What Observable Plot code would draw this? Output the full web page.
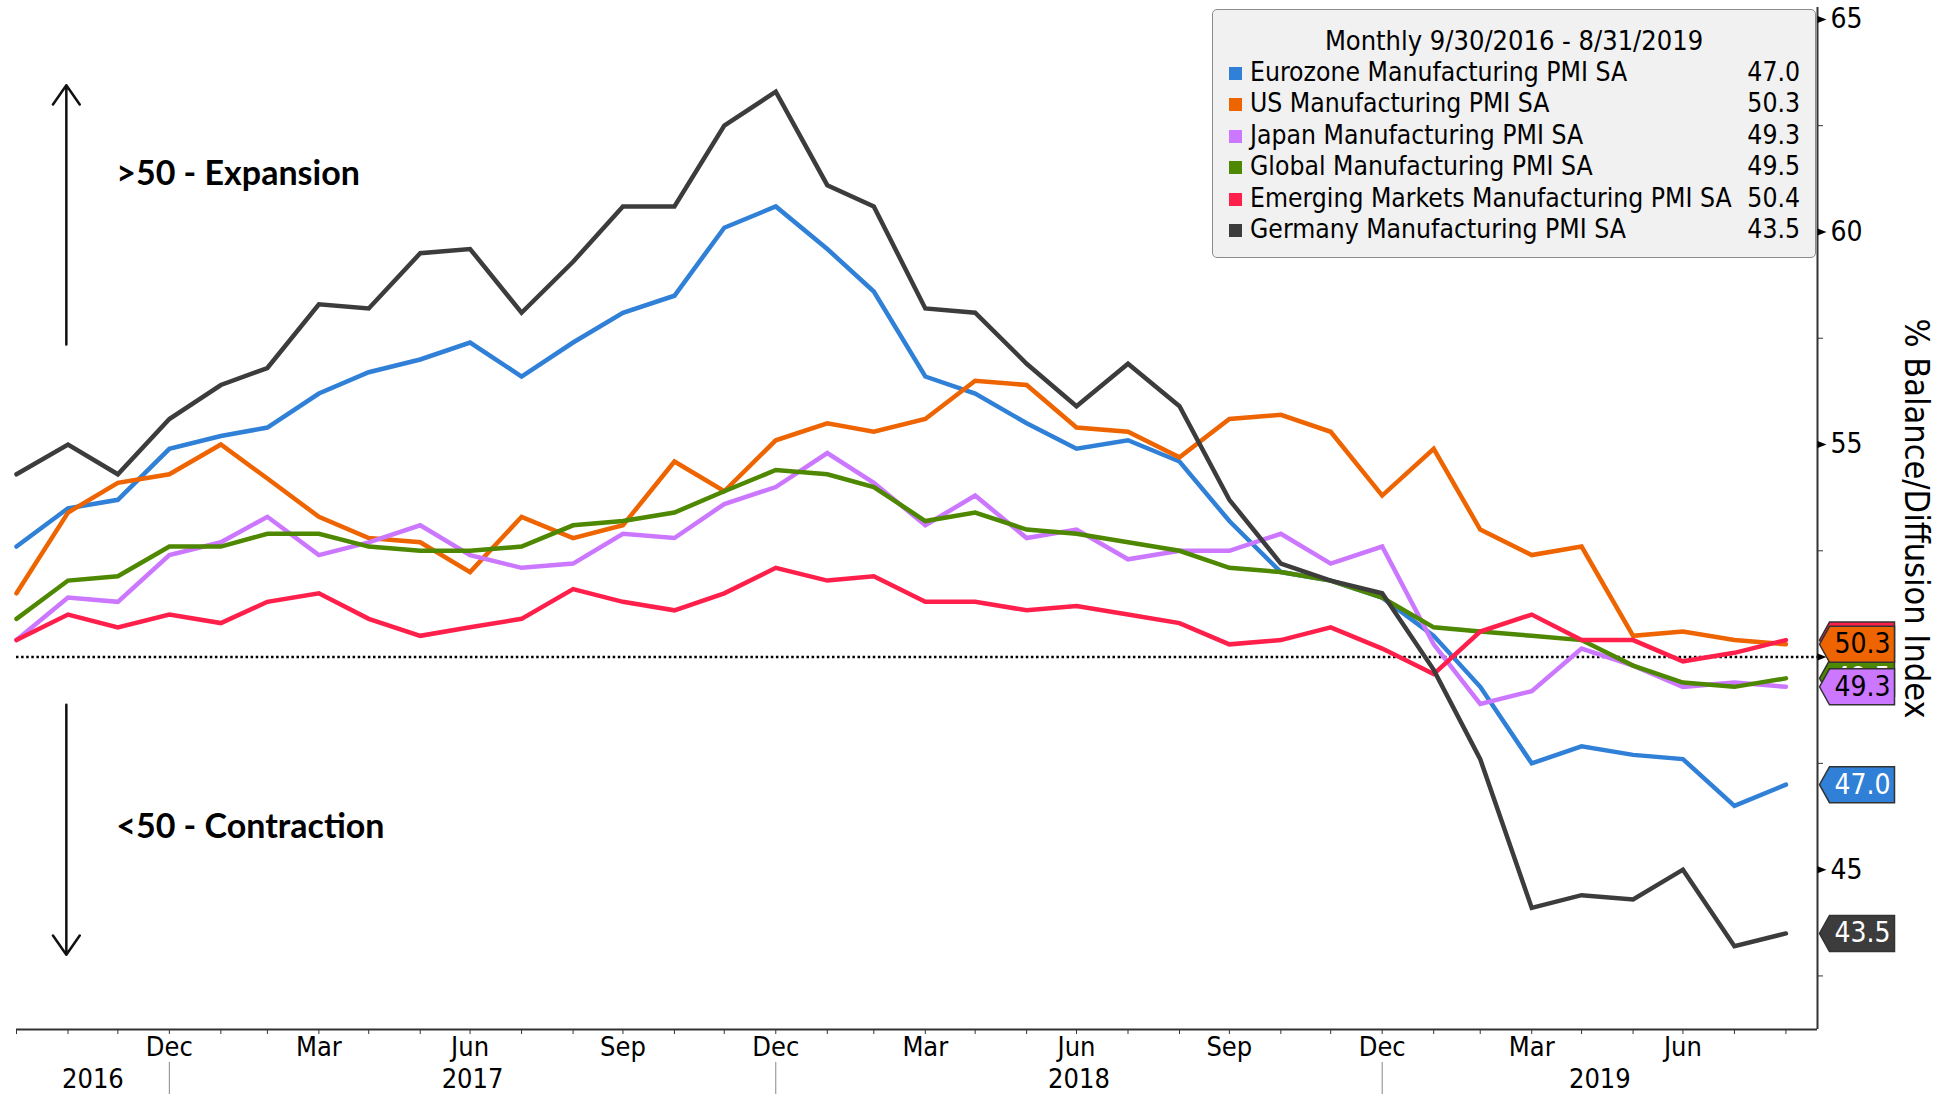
<!DOCTYPE html>
<html>
<head>
<meta charset="utf-8">
<script src="https://cdn.jsdelivr.net/npm/d3@7"></script>
<script src="https://cdn.jsdelivr.net/npm/@observablehq/plot@0.6"></script>
<style>
  body { margin: 0; background: #fff; }
  #wrap { position: relative; width: 1948px; height: 1094px; font-family: "DejaVu Sans Condensed", "DejaVu Sans", sans-serif; font-stretch: condensed; color: #000; }
  #legend { position: absolute; left: 1212px; top: 9px; width: 604px; height: 249px; box-sizing: border-box; background: #f1f1f1; border: 1.5px solid #8c8c8c; border-radius: 5px; font-size: 26.3px; }
  #legend .title { position: absolute; left: 0; right: 0; top: 15px; line-height: 31px; text-align: center; font-size: 27px; }
  #legend .row { position: absolute; left: 16px; right: 15px; height: 31px; line-height: 31px; }
  #legend .sw { position: absolute; left: 0; top: 10px; width: 13px; height: 13px; }
  #legend .nm { position: absolute; left: 21px; }
  #legend .vl { position: absolute; right: 0; }
</style>
</head>
<body>
<div id="wrap"><div id="chart"></div><div id="legend"></div></div>
<script>
// ---- data (monthly, 9/30/2016 - 8/31/2019) ----
const seriesNames = [
  "Eurozone Manufacturing PMI SA",
  "US Manufacturing PMI SA",
  "Japan Manufacturing PMI SA",
  "Global Manufacturing PMI SA",
  "Emerging Markets Manufacturing PMI SA",
  "Germany Manufacturing PMI SA"
];
const seriesColors = ["#2f80d6", "#ee6400", "#cc77ff", "#4e8700", "#ff1f4b", "#3c3c3c"];
const tagTextColors = ["#fff", "#000", "#000", "#fff", "#000", "#fff"];

const eurozone = [52.6,53.5,53.7,54.9,55.2,55.4,56.2,56.7,57.0,57.4,56.6,57.4,58.1,58.5,60.1,60.6,59.6,58.6,56.6,56.2,55.5,54.9,55.1,54.6,53.2,52.0,51.8,51.4,50.5,49.3,47.5,47.9,47.7,47.6,46.5,47.0];
const us       = [51.5,53.4,54.1,54.3,55.0,54.2,53.3,52.8,52.7,52.0,53.3,52.8,53.1,54.6,53.9,55.1,55.5,55.3,55.6,56.5,56.4,55.4,55.3,54.7,55.6,55.7,55.3,53.8,54.9,53.0,52.4,52.6,50.5,50.6,50.4,50.3];
const japan    = [50.4,51.4,51.3,52.4,52.7,53.3,52.4,52.7,53.1,52.4,52.1,52.2,52.9,52.8,53.6,54.0,54.8,54.1,53.1,53.8,52.8,53.0,52.3,52.5,52.5,52.9,52.2,52.6,50.3,48.9,49.2,50.2,49.8,49.3,49.4,49.3];
const global   = [50.9,51.8,51.9,52.6,52.6,52.9,52.9,52.6,52.5,52.5,52.6,53.1,53.2,53.4,53.9,54.4,54.3,54.0,53.2,53.4,53.0,52.9,52.7,52.5,52.1,52.0,51.8,51.4,50.7,50.6,50.5,50.4,49.8,49.4,49.3,49.5];
const emerging = [50.4,51.0,50.7,51.0,50.8,51.3,51.5,50.9,50.5,50.7,50.9,51.6,51.3,51.1,51.5,52.1,51.8,51.9,51.3,51.3,51.1,51.2,51.0,50.8,50.3,50.4,50.7,50.2,49.6,50.6,51.0,50.4,50.4,49.9,50.1,50.4];
const germany  = [54.3,55.0,54.3,55.6,56.4,56.8,58.3,58.2,59.5,59.6,58.1,59.3,60.6,60.6,62.5,63.3,61.1,60.6,58.2,58.1,56.9,55.9,56.9,55.9,53.7,52.2,51.8,51.5,49.7,47.6,44.1,44.4,44.3,45.0,43.2,43.5];
const seriesValues = [eurozone, us, japan, global, emerging, germany];

// month-end dates Sep 2016 .. Aug 2019
const dates = d3.utcMonth.range(new Date(Date.UTC(2016, 9, 1)), new Date(Date.UTC(2019, 8, 2))).map(d => d3.utcDay.offset(d, -1));

const yMajorTicks = [45, 50, 55, 60, 65];
const yMinorTicks = [42.5, 47.5, 52.5, 57.5, 62.5];
const monthLabels = {11: "Dec", 2: "Mar", 5: "Jun", 8: "Sep"};
const yearBounds = [new Date(Date.UTC(2016, 11, 31)), new Date(Date.UTC(2017, 11, 31)), new Date(Date.UTC(2018, 11, 31))];
const yearNames = ["2016", "2017", "2018", "2019"];
const xDomain = [dates[0], new Date(Date.UTC(2019, 8, 19))];
const yDomain = [41.24, 65.28];
const threshold = 50;
const arrows = [
  {x: new Date(Date.UTC(2016, 9, 30)), y1: 57.35, y2: 63.45},
  {x: new Date(Date.UTC(2016, 9, 30)), y1: 48.88, y2: 43.0}
];
const notes = [
  {x: new Date(Date.UTC(2016, 10, 29)), y: 61.35, text: ">50 - Expansion"},
  {x: new Date(Date.UTC(2016, 10, 29)), y: 46.0, text: "<50 - Contraction"}
];
const yTitle = "% Balance/Diffusion Index";
const legendTitle = "Monthly 9/30/2016 - 8/31/2019";

// ---- build ----
const edges = [xDomain[0], ...yearBounds, xDomain[1]];
const yearLabels = yearNames.map((name, i) => ({x: new Date((+edges[i] + +edges[i + 1]) / 2), text: name}));

const tri = {draw(ctx) { ctx.moveTo(0, -3.5); ctx.lineTo(9, 0); ctx.lineTo(0, 3.5); ctx.closePath(); }};
const tagShape = {draw(ctx) { ctx.moveTo(2, 0); ctx.lineTo(12, -18); ctx.lineTo(77, -18); ctx.lineTo(77, 18); ctx.lineTo(12, 18); ctx.closePath(); }};

const lineMarks = seriesNames.map((name, i) =>
  Plot.lineY(seriesValues[i].map((v, j) => ({date: dates[j], value: v})), {x: "date", y: "value", stroke: seriesColors[i], strokeWidth: 4.5, strokeLinejoin: "miter", strokeMiterlimit: 3})
);

const tagMarks = seriesNames.map((name, i) => i).reverse().flatMap(i => {
  const last = seriesValues[i][seriesValues[i].length - 1];
  return [
    Plot.dot([last], {y: d => d, frameAnchor: "right", symbol: tagShape, fill: seriesColors[i], stroke: "#333", strokeWidth: 1.5}),
    Plot.text([last], {y: d => d, frameAnchor: "right", dx: 45, text: d => d.toFixed(1), fill: tagTextColors[i], fontSize: 28, textAnchor: "middle"})
  ];
});

const chart = Plot.plot({
  width: 1948,
  height: 1094,
  marginLeft: 16,
  marginRight: 131,
  marginTop: 7,
  marginBottom: 65,
  x: {type: "utc", domain: xDomain},
  y: {domain: yDomain},
  style: {fontFamily: '"DejaVu Sans Condensed", "DejaVu Sans", sans-serif', fontStretch: "condensed", fontSize: "27px", color: "#000", background: "transparent", overflow: "visible"},
  marks: [
    Plot.ruleY([threshold], {stroke: "#000", strokeWidth: 2.5, strokeDasharray: "2.5,2.6"}),
    Plot.arrow(arrows, {x1: "x", x2: "x", y1: "y1", y2: "y2", stroke: "#111", strokeWidth: 2.5, headLength: 14, headAngle: 70}),
    Plot.text(notes, {x: "x", y: "y", text: "text", textAnchor: "start", fontWeight: "bold", fontSize: 34, fontFamily: "Lato, sans-serif", fill: "#000"}),
    ...lineMarks,
    Plot.ruleY([yDomain[0]], {stroke: "#333", strokeWidth: 2}),
    Plot.ruleX([xDomain[1]], {stroke: "#333", strokeWidth: 2}),
    Plot.axisX({ticks: dates, tickSize: 5, tickPadding: 2, stroke: "#333", tickFormat: (d, i) => (i > 0 && monthLabels[d.getUTCMonth()]) || "", fontSize: 27}),
    Plot.axisX({ticks: yearBounds, tickSize: 32, dy: 33, stroke: "#888", tickFormat: () => ""}),
    Plot.text(yearLabels, {x: "x", text: "text", frameAnchor: "bottom", dy: 58, fontSize: 27}),
    Plot.axisY({anchor: "right", ticks: yMinorTicks, tickSize: 5, stroke: "#333", tickFormat: () => ""}),
    Plot.axisY({anchor: "right", ticks: yMajorTicks, tickSize: 0, tickPadding: 13, fontSize: 28}),
    Plot.dot(yMajorTicks, {y: d => d, frameAnchor: "right", symbol: tri, fill: "#000"}),
    ...tagMarks,
    Plot.text([yTitle], {frameAnchor: "right", dx: 98, rotate: 90, fontSize: 34, textAnchor: "middle", text: d => d})
  ]
});
document.getElementById("chart").appendChild(chart);

// legend
const lg = document.getElementById("legend");
const t = document.createElement("div");
t.className = "title"; t.textContent = legendTitle; lg.appendChild(t);
seriesNames.forEach((name, i) => {
  const r = document.createElement("div");
  r.className = "row";
  r.style.top = (47 + i * 31.4) + "px";
  r.innerHTML = `<span class="sw" style="background:${seriesColors[i]}"></span><span class="nm">${name}</span><span class="vl">${seriesValues[i][seriesValues[i].length - 1].toFixed(1)}</span>`;
  lg.appendChild(r);
});
</script>
</body>
</html>
